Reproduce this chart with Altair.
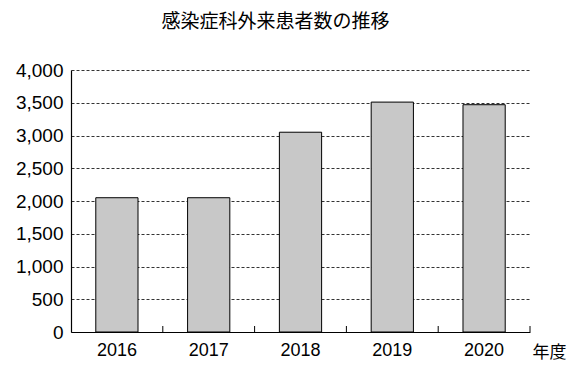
import altair as alt
import pandas as pd

years = ["2016", "2017", "2018", "2019", "2020"]
patients = [2050, 2050, 3050, 3510, 3470]

df = pd.DataFrame({"year": years, "patients": patients})

W, H = 459, 262
FONT = "Liberation Sans"
CJK = "Noto Sans CJK JP"

bars = alt.Chart(df).mark_bar(color="#c8c8c8", stroke="#000", strokeWidth=1).encode(
    x=alt.X("year:N", sort=years, scale=alt.Scale(paddingInner=0.54, paddingOuter=0.27),
            axis=alt.Axis(title="年度", titleFont=CJK, titleFontSize=17, titleFontWeight="normal",
                          titleColor="#000", titleAnchor="end", titleAngle=0, titleAlign="left",
                          titleX=W + 2, titleY=25, titleBaseline="alphabetic",
                          labelAngle=0, labelFont=FONT, labelFontSize=18, labelColor="#000",
                          labelPadding=9, ticks=False, domainColor="#000", domainWidth=1.2,
                          grid=False)),
    y=alt.Y("patients:Q", scale=alt.Scale(domain=[0, 4000], nice=False),
            axis=alt.Axis(title=None, values=list(range(0, 4001, 500)), format=",.0f",
                          labelOverlap=False,
                          labelFont=FONT, labelFontSize=19, labelColor="#000", labelPadding=8,
                          ticks=False, domainColor="#000", domainWidth=1.2,
                          grid=True, gridColor="#333", gridDash=[3, 2], gridWidth=1,
                          gridOpacity=1)),
)

# inward ticks at the boundaries between the year slots
ticks = alt.Chart(df).mark_rule(color="#000", strokeWidth=1).encode(
    x=alt.X("year:N", sort=years, scale=alt.Scale(padding=0), bandPosition=1, axis=None),
    y=alt.value(H),
    y2=alt.value(H - 6),
)

chart = alt.layer(bars, ticks).resolve_scale(x="independent").properties(
    width=W, height=H,
    title=alt.TitleParams("感染症科外来患者数の推移", font=CJK, fontSize=19, fontWeight="normal",
                          color="#000", anchor="middle", dx=-25, offset=29),
    autosize=alt.AutoSizeParams(type="none"),
    padding={"left": 63, "top": 62, "right": 45, "bottom": 37},
).configure_view(stroke=None)

chart.save("out.html", embed_options={"renderer": "svg", "actions": False})
